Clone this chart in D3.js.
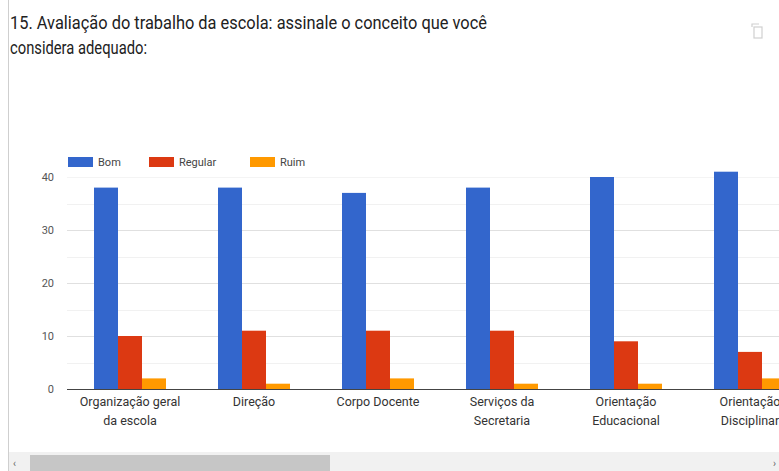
<!DOCTYPE html>
<html>
<head>
<meta charset="utf-8">
<script src="https://cdn.jsdelivr.net/npm/d3@7"></script>
<style>
  body { margin: 0; background: #fff; overflow: hidden; }
  text { font-family: Roboto, "Noto Sans", sans-serif; }
</style>
</head>
<body>
<script>
var categories = [
  ['Organização geral', 'da escola'],
  ['Direção'],
  ['Corpo Docente'],
  ['Serviços da', 'Secretaria'],
  ['Orientação', 'Educacional'],
  ['Orientação', 'Disciplinar']
];
var seriesNames = ['Bom', 'Regular', 'Ruim'];
var bom     = [38, 38, 37, 38, 40, 41];
var regular = [10, 11, 11, 11, 9, 7];
var ruim    = [2, 1, 2, 1, 1, 2];
var yTicks  = [0, 10, 20, 30, 40];
var minorTicks = [5, 15, 25, 35];
var colors  = ['#3366cc', '#dc3912', '#ff9900'];

var W = 779, H = 471;
var svg = d3.select('body').append('svg')
  .attr('width', W)
  .attr('height', H);

// card left border
svg.append('line')
  .attr('x1', 8.5).attr('x2', 8.5)
  .attr('y1', 0).attr('y2', H)
  .attr('stroke', '#cfcfcf');

// title
svg.append('text')
  .attr('x', 10).attr('y', 29)
  .attr('font-size', 19)
  .attr('fill', '#212121')
  .attr('textLength', 477).attr('lengthAdjust', 'spacingAndGlyphs')
  .text('15. Avaliação do trabalho da escola: assinale o conceito que você');
svg.append('text')
  .attr('x', 10).attr('y', 54)
  .attr('font-size', 19)
  .attr('fill', '#212121')
  .attr('textLength', 137).attr('lengthAdjust', 'spacingAndGlyphs')
  .text('considera adequado:');

// copy icon
var icon = svg.append('g').attr('transform', 'translate(752,24)')
  .attr('fill', 'none').attr('stroke', '#d0d0d0').attr('stroke-width', 1.2);
icon.append('path').attr('d', 'M0,3 V0 H7');
icon.append('rect').attr('x', 2).attr('y', 3).attr('width', 8).attr('height', 11);

// scales
var x0 = d3.scaleBand()
  .domain(d3.range(categories.length))
  .range([68, 68 + 124 * categories.length])
  .paddingInner(52 / 124)
  .paddingOuter(26 / 124);

var x1 = d3.scaleBand()
  .domain(seriesNames)
  .range([0, x0.bandwidth()]);

var y = d3.scaleLinear().domain([0, 40]).range([389, 177]);

var plot = svg.append('g');

// minor gridlines
plot.selectAll('.minor').data(minorTicks).enter().append('line')
  .attr('x1', 67).attr('x2', W)
  .attr('y1', function(d) { return Math.round(y(d)) + 0.5; })
  .attr('y2', function(d) { return Math.round(y(d)) + 0.5; })
  .attr('stroke', '#f1f1f1');

// y axis with major gridlines
var yAxis = d3.axisLeft(y).tickValues(yTicks).tickSize(-(W - 67)).tickFormat(d3.format('d'));
var yg = plot.append('g')
  .attr('transform', 'translate(67,0)')
  .call(yAxis);
yg.select('.domain').remove();
yg.selectAll('.tick line')
  .attr('stroke', function(d) { return d === 0 ? 'none' : (d === 40 ? '#f4f4f4' : '#e0e0e0'); });
yg.selectAll('.tick text')
  .attr('x', -13)
  .attr('font-size', 11)
  .attr('fill', '#555')
  .style('font-family', 'Roboto, sans-serif');

// bars
var data = categories.map(function(c, i) {
  return [bom[i], regular[i], ruim[i]];
});
var groups = plot.selectAll('.grp').data(data).enter().append('g')
  .attr('transform', function(d, i) { return 'translate(' + x0(i) + ',0)'; });
groups.selectAll('rect').data(function(d) { return d; }).enter().append('rect')
  .attr('x', function(d, j) { return x1(seriesNames[j]); })
  .attr('y', function(d) { return y(d); })
  .attr('width', x1.bandwidth())
  .attr('height', function(d) { return y(0) - y(d); })
  .attr('fill', function(d, j) { return colors[j]; });

// baseline
plot.append('line')
  .attr('x1', 67).attr('x2', W)
  .attr('y1', y(0) + 0.5).attr('y2', y(0) + 0.5)
  .attr('stroke', '#444');

// x labels
var xl = plot.selectAll('.xl').data(categories).enter().append('text')
  .attr('text-anchor', 'middle')
  .attr('font-size', 12.5)
  .attr('fill', '#333')
  .attr('transform', function(d, i) { return 'translate(' + (x0(i) + x0.bandwidth() / 2) + ',406)'; });
xl.selectAll('tspan').data(function(d) { return d; }).enter().append('tspan')
  .attr('x', 0)
  .attr('y', function(d, k) { return k * 19; })
  .text(function(d) { return d; });

// legend
var legendX = [68, 149, 250];
var lg = svg.append('g').selectAll('g').data(seriesNames).enter().append('g')
  .attr('transform', function(d, i) { return 'translate(' + legendX[i] + ',157)'; });
lg.append('rect')
  .attr('width', 25).attr('height', 10)
  .attr('fill', function(d, i) { return colors[i]; });
lg.append('text')
  .attr('x', 30).attr('y', 9)
  .attr('font-size', 11)
  .attr('fill', '#444')
  .text(function(d) { return d; });

// horizontal scrollbar
svg.append('rect')
  .attr('x', 9).attr('y', 452).attr('width', W - 9).attr('height', H - 452)
  .attr('fill', '#f1f1f1');
svg.append('rect')
  .attr('x', 30).attr('y', 455).attr('width', 300).attr('height', H - 455)
  .attr('fill', '#c6c6c6');
svg.append('text').attr('x', 13).attr('y', 467).attr('font-size', 10).attr('fill', '#666').text('‹');
svg.append('text').attr('x', 773).attr('y', 467).attr('font-size', 10).attr('fill', '#666').text('›');
</script>
</body>
</html>
